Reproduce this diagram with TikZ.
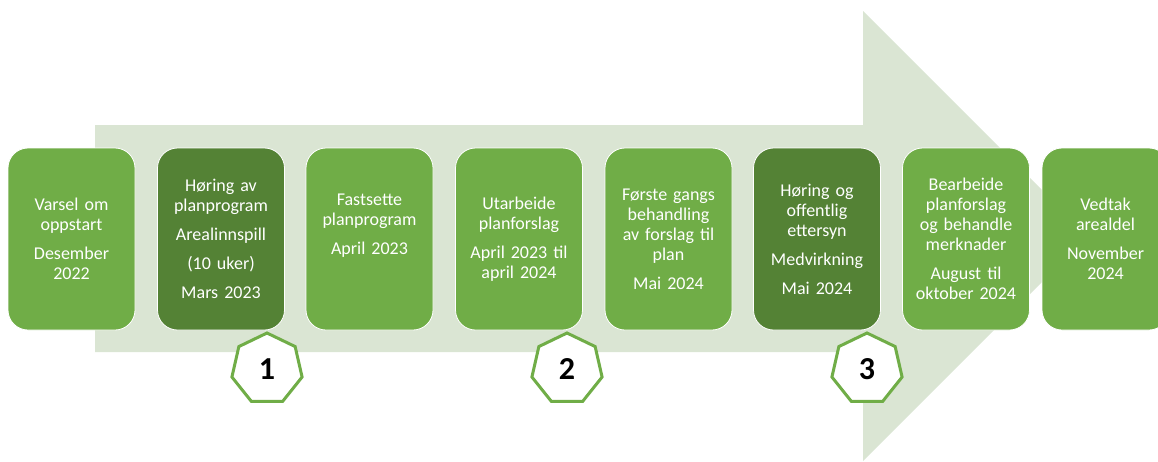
\documentclass[tikz,border=0pt]{standalone}
\usepackage{fontspec}
\setmainfont{Carlito}
\usetikzlibrary{shapes.geometric}

\definecolor{lysgronn}{RGB}{112,173,71}
\definecolor{morkgronn}{RGB}{84,130,53}
\definecolor{pilgronn}{RGB}{218,229,211}

\tikzset{
  fase/.style={draw=white, line width=0.8pt, rounded corners=20pt,
    minimum width=127pt, minimum height=182pt, text width=118pt,
    align=center, text=white, inner sep=0pt,
    font=\fontsize{18}{20}\selectfont},
  milepael/.style={draw=lysgronn, fill=white, line width=3pt,
    regular polygon, regular polygon sides=7, minimum size=72pt,
    inner sep=0pt, font=\fontsize{32}{36}\selectfont\bfseries},
}

\begin{document}
\begin{tikzpicture}[x=1pt,y=-1pt]
        \def \pw {1158}
        \def \ph {461}
        \def \ym {239}
        \def \gap {9pt}
        \useasboundingbox (0,0) rectangle (\pw,\ph);
        \clip (0,0) rectangle (\pw,\ph);

        % the big arrow behind the boxes
        \fill[pilgronn] (95,125) -- (863,125) -- (863,11) -- (1088,236)
          -- (863,461) -- (863,352) -- (95,352) -- cycle;

        \node[fase, fill=lysgronn] at (71.5,\ym) (f1) {Varsel om\\oppstart\\[\gap]Desember\\2022};
        \node[fase, fill=morkgronn] at (221,\ym) (f2) {H\o ring av\\planprogram\\[\gap]Arealinnspill\\[\gap](10 uker)\\[\gap]Mars 2023};
        \node[fase, fill=lysgronn] at (369.5,\ym) (f3) {Fastsette\\planprogram\\[\gap]April 2023\\[\gap]~};
        \node[fase, fill=lysgronn] at (519,\ym) (f4) {Utarbeide\\planforslag\\[\gap]April 2023 til\\april 2024};
        \node[fase, fill=lysgronn] at (668.5,\ym) (f5) {F\o rste gangs\\behandling\\av forslag til\\plan\\[\gap]Mai 2024};
        \node[fase, fill=morkgronn] at (817,\ym) (f6) {H\o ring og\\offentlig\\ettersyn\\[\gap]Medvirkning\\[\gap]Mai 2024};
        \node[fase, fill=lysgronn] at (966,\ym) (f7) {Bearbeide\\planforslag\\og behandle\\merknader\\[\gap]August til\\oktober 2024};
        \node[fase, fill=lysgronn] at (1105.5,\ym) (f8) {Vedtak\\arealdel\\[\gap]November\\2024};

        \foreach \nr/\x in {1/267, 2/567, 3/867}{
          \node[milepael] at (\x,369) (m\nr) {\nr};
        }
\end{tikzpicture}
\end{document}
